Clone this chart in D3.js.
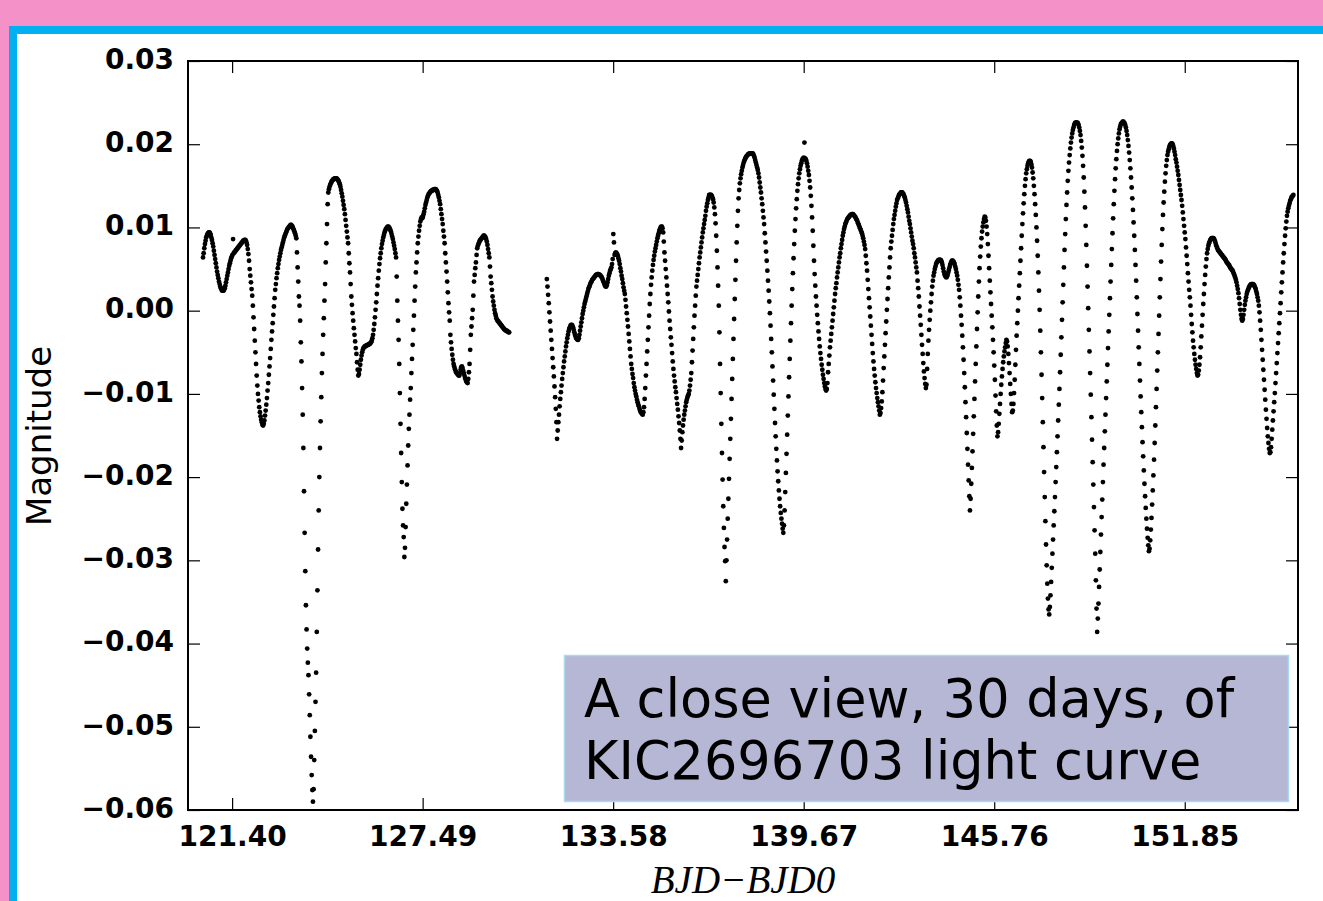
<!DOCTYPE html>
<html><head><meta charset="utf-8">
<script src="https://cdn.jsdelivr.net/npm/d3@7"></script>
<style>html,body{margin:0;padding:0;background:#f591c9;}svg{display:block}</style>
</head><body><svg id="c" width="1323" height="901"></svg>
<script>
// ---------------- DATA ----------------
const segmentStartBJD = [120.47, 131.46];   // first timestamp of each continuous run
const cadenceDays = 0.02043;               // Kepler long cadence
// magnitudes in millimag, one per cadence
const magSeg1mmag = [
6.4,6.9,7.5,8.0,8.4,8.8,9.0,9.2,9.3,9.4,9.4,
9.3,9.1,8.8,8.5,8.1,7.7,7.2,6.7,6.2,5.7,5.2,4.7,4.3,3.9,3.5,3.2,2.9,2.7,2.5,2.4,2.4,2.4,
2.5,2.7,3.0,3.4,3.8,4.2,4.6,5.0,5.4,5.7,6.0,6.3,6.5,6.7,8.6,6.9,7.0,7.1,
7.2,7.3,7.4,7.5,7.6,7.7,7.8,7.9,8.0,8.1,8.2,8.3,8.4,8.4,8.5,8.5,
8.4,8.2,7.9,7.4,6.8,6.0,5.0,4.2,3.4,2.6,1.8,0.6,-0.8,-2.2,-3.6,-5.0,-6.4,-7.8,-9.0,-10.0,-10.8,-11.6,-12.2,-12.7,-13.1,-13.4,-13.7,-13.8,
-13.6,-13.2,-12.6,-12.0,-11.3,-10.5,-9.6,-8.7,-7.7,-6.7,-5.7,-4.6,-3.5,-2.5,-1.5,-0.5,0.5,1.5,2.5,3.2,3.9,4.5,5.1,5.6,6.1,6.5,6.9,7.3,7.6,7.9,8.2,8.5,8.8,9.0,9.2,9.4,9.6,9.8,9.9,10.0,10.1,10.2,10.3,10.3,
10.2,10.1,9.9,9.7,9.5,9.3,9.0,
8.7,7.0,5.2,3.5,1.7,0.6,-1.2,-3.8,-6.1,-9.3,-12.5,-16.5,-21.7,-26.7,-31.3,-35.4,-38.3,-40.6,-42.3,-43.8,-46.1,-48.6,-51.2,-53.6,-55.8,-57.6,-59.0,
-57.5,-54.0,-50.5,-47.0,
-43.5,-38.6,-33.6,-28.7,-24.0,-20.0,-16.5,-13.3,-10.4,-7.5,-5.2,-2.9,-0.9,1.2,3.2,5.8,8.1,10.4,12.8,14.2,
14.6,14.9,15.1,15.3,15.5,15.6,15.7,15.8,15.8,15.9,15.9,15.9,
15.9,15.8,15.7,15.6,15.4,15.2,14.9,14.5,14.1,13.7,13.2,12.7,12.2,11.6,10.9,10.2,9.5,8.8,8.1,6.9,5.7,4.6,3.2,1.7,0.7,-0.3,-1.2,-2.1,-2.9,-3.7,-4.5,-5.2,-6.2,-7.1,
-7.8,-7.6,-7.1,-6.5,-5.9,-5.4,-5.0,-4.7,-4.5,-4.4,-4.3,-4.3,-4.2,-4.2,-4.1,-4.1,-4.1,-4.0,-4.0,-3.9,-3.8,-3.6,-3.3,-2.9,-2.3,-1.6,-0.8,0.1,1.0,2.0,3.0,3.9,4.8,5.6,6.3,6.9,7.5,8.0,8.4,8.8,9.1,9.4,9.6,9.8,9.9,10.0,10.1,
10.1,10.0,9.9,9.7,9.5,9.2,8.9,8.6,8.2,7.8,7.4,6.9,
6.4,4.1,1.2,-1.2,-3.5,-6.4,-9.9,-13.6,-17.1,-20.6,-23.8,-25.8,-27.2,-29.6,
-28.5,-26.0,-23.2,-20.9,-18.6,-16.2,-14.2,-12.5,-10.7,-9.3,-7.5,-5.8,-4.1,-2.3,-0.6,1.2,2.9,4.6,5.8,7.0,8.1,8.9,9.6,10.2,10.7,11.0,11.2,11.1,11.3,11.6,11.9,12.3,12.7,13.0,13.3,13.6,13.8,14.0,14.1,14.2,14.3,14.4,14.4,14.5,14.5,14.5,14.6,14.6,14.6,14.5,
14.4,14.2,13.9,13.6,13.2,12.8,12.2,11.6,11.0,10.4,9.6,8.9,8.1,6.9,5.8,4.7,3.5,2.2,0.9,-0.2,-1.2,-2.9,-3.8,-4.6,-5.3,-5.9,-6.4,-6.7,-7.0,-7.2,-7.4,-7.5,-7.6,-7.7,-7.8,-7.8,-7.5,-7.1,-6.8,-6.7,-6.9,-7.2,-7.5,-7.8,-8.1,-8.3,-8.5,-8.6,-8.7,
-8.2,-7.4,-6.4,-4.7,-2.9,-1.9,-0.9,0.1,1.8,3.5,4.3,5.1,5.8,6.7,7.5,7.8,8.0,8.2,8.4,8.5,8.6,8.7,8.8,8.9,9.0,9.0,
8.9,8.8,8.6,8.3,7.9,7.4,6.9,6.4,5.3,4.1,3.3,2.5,1.7,1.1,0.6,0.1,-0.3,-0.6,-0.9,-1.1,-1.2,-1.3,-1.4,-1.5,-1.6,-1.7,-1.8,-1.9,-2.0,-2.1,-2.2,-2.3,-2.3,-2.4,-2.4,-2.5,-2.5,-2.6,-2.6
];
const magSeg2mmag = [
3.8,2.9,1.9,0.9,-0.2,-1.3,-2.4,-3.5,-4.6,-5.7,-6.8,-7.9,-9.1,-10.4,-11.8,-13.4,-15.4,
-14.4,-13.4,-12.5,-11.5,-10.6,-9.8,-9.0,-8.2,-7.5,-6.8,-6.1,-5.5,-4.9,-4.3,-3.8,-3.3,-2.9,-2.5,-2.2,-2.0,-1.8,-1.7,-1.7,
-1.8,-2.0,-2.3,-2.6,-2.9,-3.1,-3.3,-3.4,-3.5,-3.5,
-3.3,-2.9,-2.4,-1.9,-1.4,-0.9,-0.4,0.0,0.4,0.8,1.1,1.4,1.7,2.0,2.3,2.6,2.8,3.0,3.2,3.4,3.5,3.7,3.8,3.9,4.0,4.1,4.2,4.3,4.3,4.4,4.4,4.4,4.3,4.3,4.2,4.1,4.0,3.8,3.6,3.4,3.2,3.0,2.9,2.9,3.1,3.4,3.8,4.2,4.5,4.8,5.0,5.2,5.6,6.2,9.2,8.2,6.7,6.9,7.0,
6.9,6.8,6.6,6.3,6.0,5.6,5.1,4.7,4.2,3.8,3.3,2.8,2.4,2.0,1.3,0.5,-0.3,-1.1,-1.9,-2.8,-3.7,-4.6,-5.5,-6.4,-7.0,-7.6,-8.1,-8.7,-9.2,-9.6,-10.0,-10.3,-10.7,-11.0,-11.3,-11.5,-11.8,-12.0,-12.2,-12.3,-12.4,-12.5,
-12.2,-11.6,-10.6,-9.3,-7.8,-6.4,-4.9,-3.5,-2.0,-0.6,0.8,2.0,3.1,4.0,4.8,5.5,6.1,6.6,7.1,7.5,7.9,8.3,8.7,9.0,9.3,9.6,9.8,10.0,10.1,
10.1,9.9,9.4,8.3,7.0,6.0,5.0,4.0,3.0,2.0,1.0,-0.1,-1.2,-2.2,-3.2,-4.1,-5.1,-6.1,-7.0,-7.8,-8.5,-9.2,-9.8,-10.5,-11.2,-11.9,-12.7,-13.5,-14.4,-15.4,-16.5,
-15.6,-14.6,-13.8,-13.1,-12.5,-12.0,-11.5,-11.0,-10.7,-10.4,-10.2,-10.0,-9.6,-9.0,-8.3,-7.5,-6.2,-4.8,-3.4,-2.0,-0.6,0.6,1.8,2.9,3.6,4.3,5.0,5.7,6.4,7.0,7.6,8.2,8.8,9.4,9.9,10.4,10.9,11.4,12.0,12.5,12.9,13.3,13.6,13.9,
13.9,13.9,13.9,13.8,13.6,13.4,13.0,12.4,11.6,10.5,9.0,7.2,5.2,3.0,0.6,-2.6,-6.4,-9.9,-13.6,-17.1,-20.3,-23.5,-26.1,-28.4,-30.1,-32.5,
-30.0,-27.5,-25.0,-22.6,-20.2,-17.8,-15.4,-13.0,-10.6,-8.2,-5.8,-3.4,-1.0,1.4,3.7,6.0,8.2,10.2,12.0,13.5,14.5,15.3,15.9,16.4,16.8,17.2,17.5,17.8,18.0,18.2,18.4,18.5,18.6,18.7,18.8,18.8,18.9,18.9,18.9,18.9,18.9,18.9,18.8,
18.6,18.4,18.1,17.8,17.5,17.2,16.9,16.5,16.0,15.4,14.8,14.2,13.5,12.8,12.0,11.2,10.4,9.3,8.2,7.1,6.0,4.8,3.6,2.4,1.1,-0.3,-1.8,-3.4,-5.0,-6.7,-8.4,-10.1,-11.8,-13.5,-15.1,-16.6,-18.0,-19.3,-20.5,-21.6,-22.6,-23.5,-24.3,-25.0,-25.6,-26.2,-26.7,
-25.8,-24.0,-21.8,-19.5,-17.2,-14.9,-12.6,-10.3,-8.0,-5.8,-3.6,-1.5,0.6,2.6,4.5,6.3,8.0,9.6,11.0,12.3,13.4,14.4,15.2,15.9,16.5,17.0,17.4,17.7,18.0,18.2,18.3,18.4,20.2,18.3,18.2,
18.0,17.7,17.3,16.8,16.3,15.6,14.8,13.8,12.6,11.2,9.6,7.8,6.0,4.4,3.0,1.7,0.6,-0.5,-1.5,-2.5,-3.4,-4.3,-5.1,-5.8,-6.5,-7.1,-7.7,-8.2,-8.7,-9.1,-9.4,-9.6,
-9.4,-8.7,-7.4,-6.4,-5.4,-4.4,-3.6,-2.8,-2.0,-1.2,-0.4,0.4,1.2,2.0,2.7,3.3,4.0,4.6,5.2,5.8,6.4,6.9,7.5,8.0,8.5,9.0,9.4,9.8,10.1,10.4,10.6,10.8,11.0,11.1,11.2,11.3,11.4,11.5,11.5,11.6,11.6,
11.6,11.5,11.4,11.3,11.2,11.0,10.9,10.7,10.5,10.3,10.1,9.9,9.7,9.5,9.3,9.0,8.7,8.3,7.9,7.4,6.6,5.7,4.8,3.7,2.6,1.5,0.4,-0.7,-1.8,-2.9,-4.0,-5.1,-6.1,-7.0,-7.8,-8.6,-9.3,-9.9,-10.5,-11.0,-11.5,-12.0,-12.5,
-12.3,-11.7,-10.9,-9.8,-8.4,-6.9,-5.5,-4.1,-2.7,-1.3,0.1,1.4,2.7,4.0,5.2,6.4,7.5,8.3,9.0,9.7,10.4,11.0,11.5,12.0,12.5,12.9,13.3,13.5,13.7,13.9,14.0,14.1,14.2,14.2,14.2,
14.1,14.0,13.8,13.6,13.3,13.0,12.6,12.2,11.8,11.3,10.8,10.4,9.9,9.4,8.9,8.4,8.0,7.5,6.9,6.4,5.8,5.2,4.6,3.6,2.7,1.7,0.5,-0.6,-1.7,-2.9,-4.1,-5.2,-6.3,-7.3,-8.1,-8.8,-9.3,
-8.9,-7.0,-5.2,-3.6,-2.3,-1.1,0.0,1.0,2.0,2.9,3.6,4.2,4.6,5.0,5.3,5.6,5.8,5.9,6.0,6.1,6.1,6.1,6.1,
6.0,5.8,5.5,5.1,4.7,4.4,4.2,4.1,4.0,
4.1,4.3,4.6,4.9,5.2,5.5,5.7,5.9,6.0,6.0,
5.9,5.8,5.6,5.3,5.0,4.6,4.2,3.7,3.1,2.5,1.6,0.6,-0.6,-1.7,-3.0,-4.4,-5.9,-7.5,-9.2,-11.0,-12.8,-14.7,-16.6,-18.5,-20.4,-22.3,-24.0,
-22.6,-20.8,-18.9,-16.9,-14.8,-12.7,-10.6,-8.5,-6.4,-4.3,-2.2,-0.2,1.7,3.5,5.1,6.5,7.7,8.7,9.5,10.1,10.6,11.0,11.3,
11.2,10.8,10.1,9.2,8.0,6.6,5.1,3.6,2.2,0.8,-0.6,-2.0,-3.5,-5.0,-6.6,-8.3,-10.2,-12.1,-13.8,-15.1,
-14.6,-13.6,-12.4,-11.2,-10.0,-8.9,-7.9,-7.0,-6.2,-5.5,-4.9,-4.4,-3.9,-3.5,
-3.7,-4.3,-5.2,-6.3,-7.5,-8.8,-10.0,-11.2,-12.2,
-12.0,-11.2,-9.9,-8.3,-6.5,-4.7,-3.0,-1.5,0.0,1.5,3.0,4.5,6.0,7.5,9.0,10.4,11.7,12.9,14.0,15.0,15.8,16.5,17.0,17.4,17.7,17.9,18.0,
18.0,17.9,17.6,17.2,16.6,15.9,15.0,14.0,12.8,11.5,10.0,8.4,6.6,4.6,2.4,0.1,-2.4,-5.0,-7.7,-10.5,-13.4,-16.4,-19.4,-22.4,-25.3,-28.1,-30.6,-32.8,-34.6,-35.9,-36.5,
-35.6,-34.2,-32.6,-30.9,-29.2,-27.5,-25.8,-24.1,-22.4,-20.6,-18.8,-17.0,-15.1,-13.2,-11.3,-9.4,-7.4,-5.3,-3.2,-1.1,1.0,3.1,5.2,7.3,9.2,11.0,12.7,14.2,15.6,16.8,17.8,18.7,19.5,20.2,20.8,21.3,21.7,22.0,22.3,22.5,22.6,22.6,22.6,22.6,
22.5,22.3,22.0,21.6,21.1,20.4,19.6,18.6,17.4,16.0,14.3,12.4,10.2,7.9,5.4,2.9,0.3,-2.3,-4.9,-7.5,-10.1,-12.8,-15.5,-18.2,-20.9,-23.6,-26.4,-29.2,-32.4,-35.8,-38.6,
-37.0,-35.2,-33.2,-31.1,-29.0,-26.9,-24.8,-22.7,-20.6,-18.5,-16.5,-14.5,-12.5,-10.5,-8.5,-6.5,-4.5,-2.5,-0.5,1.5,3.5,5.5,7.4,9.3,11.1,12.8,14.4,15.8,17.1,18.2,19.2,20.0,20.7,21.3,21.8,22.1,22.4,22.5,22.6,22.7,22.7,22.6,
22.5,22.3,22.0,21.6,21.1,20.5,19.8,19.0,18.1,17.1,16.0,14.8,13.5,12.1,10.6,9.0,7.3,5.5,3.6,1.6,-0.4,-2.4,-4.4,-6.4,-8.4,-10.3,-12.2,-14.0,-15.8,-17.5,-19.2,-20.8,-22.3,-23.7,-25.0,-26.2,-27.3,-28.2,-28.9,
-28.6,-27.6,-26.3,-24.9,-23.3,-21.6,-19.8,-17.9,-15.9,-13.8,-11.6,-9.4,-7.2,-5.0,-2.8,-0.6,1.6,3.8,5.9,7.9,9.8,11.5,13.0,14.3,15.5,16.5,17.4,18.1,18.7,19.1,19.4,19.7,19.9,20.0,20.1,20.1,
20.0,19.8,19.5,19.1,18.7,18.2,17.8,17.3,16.8,16.3,15.7,15.1,14.5,13.9,13.3,12.6,11.8,11.0,10.2,9.4,8.6,7.6,6.6,5.6,4.5,3.5,2.5,1.6,0.6,-0.5,-1.6,-2.6,-3.6,-4.4,-5.2,-5.9,-6.5,-7.0,-7.5,-7.8,
-7.7,-7.2,-6.5,-5.6,-4.4,-3.1,-1.8,-0.5,0.8,2.0,3.2,4.3,5.3,6.2,6.9,7.4,7.8,8.1,8.3,8.5,8.6,8.7,8.7,8.7,8.7,
8.6,8.4,8.2,7.9,7.7,7.5,7.3,7.2,7.1,7.0,6.9,6.8,6.7,6.6,6.5,6.4,6.3,6.2,6.1,5.9,5.8,5.7,5.6,5.5,5.4,5.2,5.1,5.0,4.9,4.8,4.6,4.4,4.2,4.0,3.7,3.4,3.0,2.6,2.1,1.5,0.8,0.1,-0.5,-1.0,-1.2,
-1.0,-0.5,0.1,0.7,1.2,1.6,2.0,2.3,2.5,2.7,2.9,3.0,3.1,3.2,3.2,3.2,3.2,3.1,
3.0,2.8,2.6,2.3,2.0,1.6,1.2,0.6,-0.2,-1.2,-2.3,-3.5,-4.7,-5.9,-7.1,-8.3,-9.5,-10.7,-11.9,-13.0,-14.1,-15.1,-15.9,-16.6,-17.1,
-17.0,-16.4,-15.4,-14.3,-13.2,-12.1,-11.0,-9.9,-8.7,-7.5,-6.3,-5.1,-3.9,-2.7,-1.5,-0.3,0.9,2.2,3.4,4.6,5.8,6.9,8.0,9.0,9.9,10.7,11.4,11.9,12.3,12.6,12.9,13.2,13.4,13.6,13.7,13.8,13.9
];
const xLimits = [119.99, 155.47];
const yLimits = [-0.06, 0.03];
const xTickValues = [121.40, 127.49, 133.58, 139.67, 145.76, 151.85];
const yTickValues = [0.03, 0.02, 0.01, 0.00, -0.01, -0.02, -0.03, -0.04, -0.05, -0.06];
const xLabel = "BJD\u2212BJD0";
const yLabel = "Magnitude";
const noteLines = ["A close view, 30 days, of", "KIC2696703 light curve"];

// ---------------- DRAW ----------------
const W = 1323, H = 901;
const svg = d3.select("#c");
svg.append("rect").attr("width", W).attr("height", H).attr("fill", "#f591c9");
svg.append("rect").attr("x", 9).attr("y", 26).attr("width", W - 9).attr("height", H - 26).attr("fill", "#00b0f0");
svg.append("rect").attr("x", 17).attr("y", 34).attr("width", W - 17).attr("height", H - 34).attr("fill", "#ffffff");

const P = {left: 188, right: 1298, top: 61, bottom: 810};
const x = d3.scaleLinear().domain(xLimits).range([P.left, P.right]);
const y = d3.scaleLinear().domain(yLimits).range([P.bottom, P.top]);

const points = [];
[magSeg1mmag, magSeg2mmag].forEach((seg, k) => {
  seg.forEach((v, i) => points.push({t: segmentStartBJD[k] + i * cadenceDays, m: v / 1000}));
});

svg.append("g").selectAll("circle").data(points).join("circle")
  .attr("cx", d => x(d.t)).attr("cy", d => y(d.m)).attr("r", 2.4).attr("fill", "#000");

const tickFont = g => g.selectAll("text")
  .attr("font-family", "DejaVu Sans").attr("font-weight", "bold").attr("font-size", 28).attr("fill", "#000");
const tickLines = g => { g.select(".domain").remove(); g.selectAll("line").attr("stroke", "#000").attr("stroke-width", 1.2); };

svg.append("g").attr("transform", `translate(0,${P.bottom})`)
  .call(d3.axisBottom(x).tickValues(xTickValues).tickSize(-12).tickPadding(16).tickFormat(d3.format(".2f")))
  .call(tickLines).call(tickFont);
svg.append("g").attr("transform", `translate(0,${P.top})`)
  .call(d3.axisTop(x).tickValues(xTickValues).tickSize(-12).tickFormat(""))
  .call(tickLines);
svg.append("g").attr("transform", `translate(${P.left},0)`)
  .call(d3.axisLeft(y).tickValues(yTickValues).tickSize(-12).tickPadding(14).tickFormat(d3.format(".2f")))
  .call(tickLines).call(tickFont)
  .call(g => g.selectAll("text").attr("dy", "0.26em"));
svg.append("g").attr("transform", `translate(${P.right},0)`)
  .call(d3.axisRight(y).tickValues(yTickValues).tickSize(-12).tickFormat(""))
  .call(tickLines);

svg.append("rect").attr("x", P.left).attr("y", P.top).attr("width", P.right - P.left).attr("height", P.bottom - P.top)
  .attr("fill", "none").attr("stroke", "#000").attr("stroke-width", 2);

svg.append("text").attr("transform", "translate(51,436) rotate(-90)").attr("text-anchor", "middle")
  .attr("font-family", "DejaVu Sans").attr("font-size", 34).attr("fill", "#000").text(yLabel);

svg.append("text").attr("x", 743).attr("y", 893).attr("text-anchor", "middle")
  .attr("font-family", "Liberation Serif").attr("font-style", "italic").attr("font-size", 39)
  .attr("fill", "#000").text(xLabel);

// note box
svg.append("rect").attr("x", 564.5).attr("y", 655.5).attr("width", 724).attr("height", 146)
  .attr("fill", "#b6b6d5").attr("stroke", "#a9daf2").attr("stroke-width", 1.5);
const note = svg.append("text").attr("font-family", "DejaVu Sans").attr("font-size", 52.5).attr("fill", "#000");
noteLines.forEach((s, i) => note.append("tspan").attr("x", 584).attr("y", 717 + i * 62).text(s));
</script></body></html>
